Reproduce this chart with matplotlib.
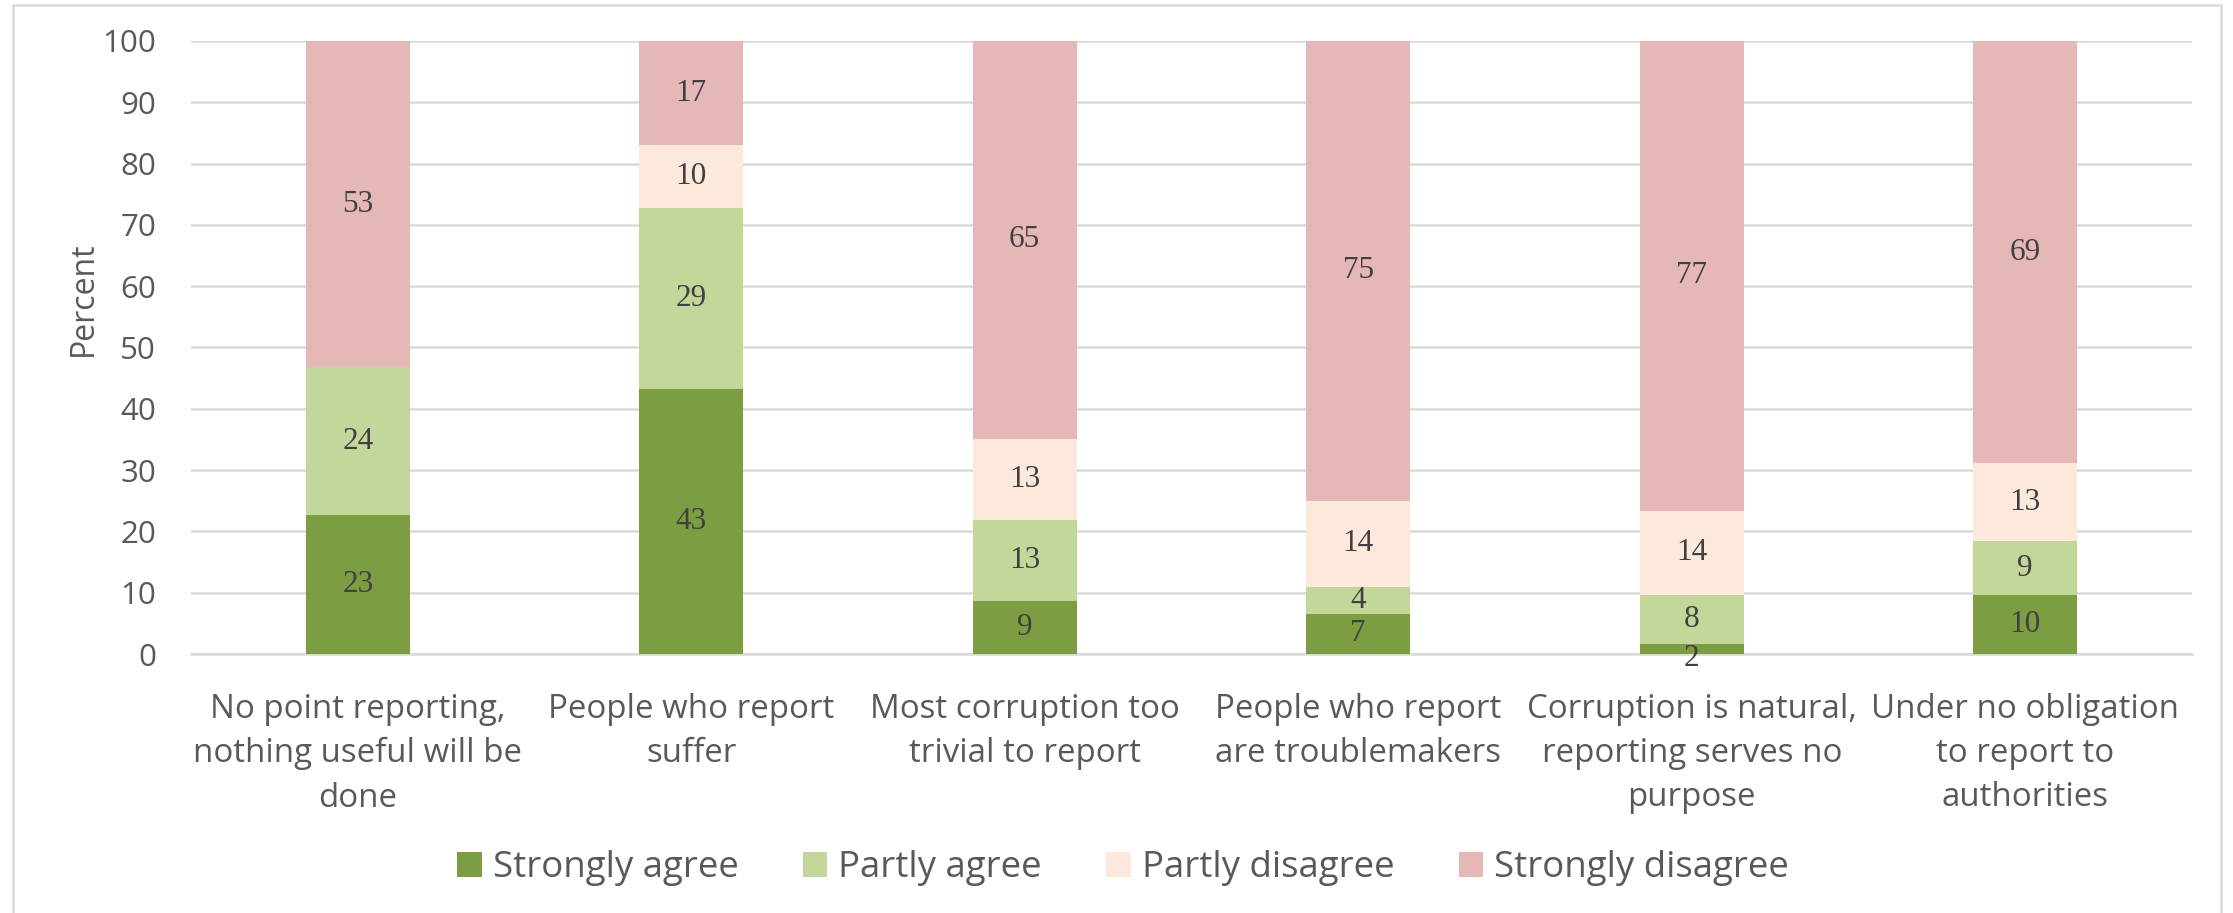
import matplotlib
matplotlib.use("Agg")
import matplotlib.pyplot as plt
from matplotlib.patches import Rectangle, Patch
import numpy as np

categories = [
    "No point reporting,\nnothing useful will be\ndone",
    "People who report\nsuffer",
    "Most corruption too\ntrivial to report",
    "People who report\nare troublemakers",
    "Corruption is natural,\nreporting serves no\npurpose",
    "Under no obligation\nto report to\nauthorities",
]
series_names = ["Strongly agree", "Partly agree", "Partly disagree", "Strongly disagree"]
strongly_agree = [22.6, 43.3, 8.6, 6.6, 1.6, 9.6]
partly_agree = [24.2, 29.4, 13.3, 4.4, 8.0, 8.8]
partly_disagree = [0.0, 10.3, 13.2, 14.0, 13.8, 12.7]
strongly_disagree = [53.2, 17.0, 64.9, 75.0, 76.6, 68.9]
yticks = [0, 10, 20, 30, 40, 50, 60, 70, 80, 90, 100]
colors = ["#7C9D41", "#C4D79B", "#FCE9DC", "#E5B7B7"]

W, H = 2233, 913
fig = plt.figure(figsize=(W / 100, H / 100), dpi=100)
ax = fig.add_axes([191 / W, 1 - 654 / H, (2192 - 191) / W, (654 - 41) / H])

sans = "Open Sans"
tick_color = "#595959"

x = np.arange(len(categories))
bottom = np.zeros(len(categories))
data = [strongly_agree, partly_agree, partly_disagree, strongly_disagree]
for vals, name, col in zip(data, series_names, colors):
    vals = np.array(vals)
    ax.bar(x, vals, width=0.313, bottom=bottom, color=col, label=name, zorder=3)
    for xi, b, v in zip(x, bottom, vals):
        if v <= 0:
            continue
        yc = b + v / 2
        if v < 2.5:
            yc -= 1.5
        ax.text(xi, yc, f"{int(round(v))}", ha="center", va="center",
                fontsize=22.5, family="Liberation Serif", color="#404040", zorder=4)
    bottom = bottom + vals

ax.set_xlim(-0.5, len(categories) - 0.5)
ax.set_ylim(0, 100)
ax.set_yticks(yticks)
ax.set_yticklabels([str(t) for t in yticks], fontsize=22.5, family=sans, color=tick_color)
ax.set_xticks(x)
ax.set_xticklabels(categories, fontsize=23.8, family=sans, color=tick_color, linespacing=1.45)
ax.tick_params(axis="both", length=0)
ax.tick_params(axis="y", pad=25)
ax.tick_params(axis="x", pad=28)
ax.grid(axis="y", color="#D9D9D9", linewidth=1.8, zorder=0)
ax.set_axisbelow(True)
for s in ["top", "right", "left"]:
    ax.spines[s].set_visible(False)
ax.spines["bottom"].set_color("#D9D9D9")
ax.spines["bottom"].set_linewidth(1.8)

ax.set_ylabel("Percent", fontsize=23, family=sans, color=tick_color)
ax.yaxis.set_label_coords(-0.0454, 0.579)

handles = [Patch(facecolor=c, edgecolor="none") for c in colors]
fig.legend(handles, series_names, loc="center", bbox_to_anchor=(0.503, 1 - 868 / H),
           ncol=4, frameon=False, prop={"family": sans, "size": 26.4},
           handlelength=0.67, handleheight=0.67, handletextpad=0.3, columnspacing=1.75,
           labelcolor=tick_color)

fig.patches.append(Rectangle((12.5 / W, -0.02), (2221 - 12.5) / W, 1 - 5 / H + 0.02,
                             transform=fig.transFigure, fill=False,
                             edgecolor="#D9D9D9", linewidth=1.8))

fig.savefig("out.png", dpi=100, facecolor="white")
